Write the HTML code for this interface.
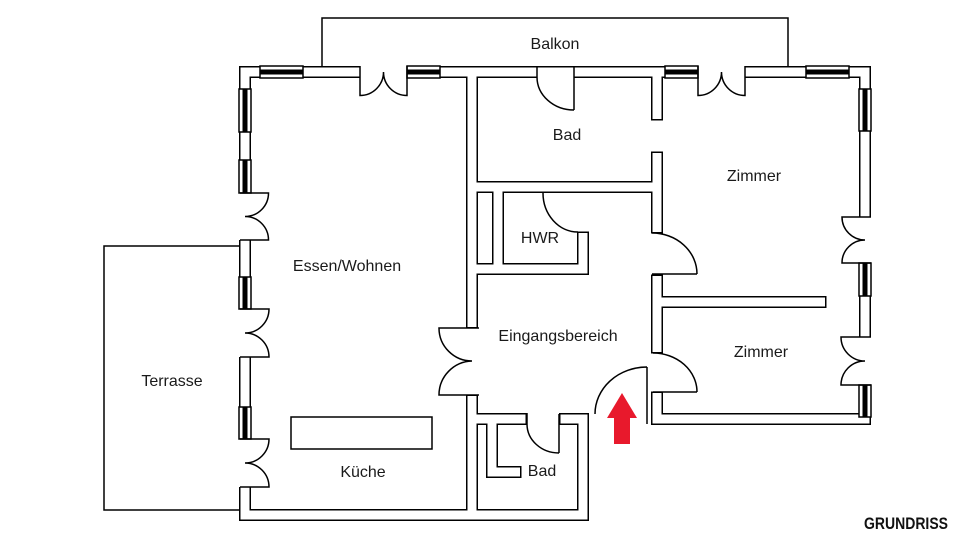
<!DOCTYPE html>
<html><head><meta charset="utf-8"><style>
html,body{margin:0;padding:0;background:#fff;}
svg{display:block;}
text{font-family:"Liberation Sans",sans-serif;font-size:16px;fill:#1a1a1a;}
</style></head><body>
<svg width="960" height="540" viewBox="0 0 960 540" xmlns="http://www.w3.org/2000/svg">
<rect width="960" height="540" fill="#fff"/>
<path d="M322,66 V18 H788 V66" fill="none" stroke="#000" stroke-width="1.5"/>
<path d="M240,246 H104 V510 H240" fill="none" stroke="#000" stroke-width="1.5"/>

<g fill="none" stroke-linecap="square" stroke-linejoin="miter">
<g id="walls">
<path d="M657,397.5 V419 H865 V72 H245 V515 H583 V419 H565"/>
<path d="M521,419 H472 V400.5"/>
<path d="M472,400.5 V515"/>
<path d="M472,72 V322.5"/>
<path d="M472,187 H657"/>
<path d="M498,187 V269"/>
<path d="M472,269 H583 V237.5"/>
<path d="M492,419 V472 H515.5"/>
<path d="M657,72 V114.5"/>
<path d="M657,157.5 V227.5"/>
<path d="M657,280.5 V347.5"/>
<path d="M657,302 H820.5"/>
</g>
</g>
<use href="#walls" stroke="#000" stroke-width="12" fill="none" stroke-linecap="square"/>
<use href="#walls" stroke="#fff" stroke-width="9" fill="none" stroke-linecap="square"/>

<g fill="#fff">
<rect x="238" y="193" width="14" height="47"/>
<rect x="238" y="309" width="14" height="48"/>
<rect x="238" y="439" width="14" height="48"/>
<rect x="858" y="217" width="14" height="46"/>
<rect x="858" y="337" width="14" height="48"/>
<rect x="360" y="65" width="47" height="14"/>
<rect x="698" y="65" width="47" height="14"/>
<rect x="537" y="68" width="37" height="11"/>
<rect x="465" y="328" width="14" height="67"/>
</g>

<g stroke="#000" stroke-width="1.5" fill="#fff">
<rect x="260" y="66" width="43" height="12"/>
<rect x="407" y="66" width="33" height="12"/>
<rect x="665" y="66" width="33" height="12"/>
<rect x="806" y="66" width="43" height="12"/>
<rect x="239" y="89" width="12" height="43"/>
<rect x="239" y="160" width="12" height="33"/>
<rect x="239" y="277" width="12" height="32"/>
<rect x="239" y="407" width="12" height="32"/>
<rect x="859" y="89" width="12" height="42"/>
<rect x="859" y="263" width="12" height="33"/>
<rect x="859" y="385" width="12" height="32"/>
</g>
<g fill="#000">
<rect x="260" y="69.5" width="43" height="5"/>
<rect x="407" y="69.5" width="33" height="5"/>
<rect x="665" y="69.5" width="33" height="5"/>
<rect x="806" y="69.5" width="43" height="5"/>
<rect x="242.5" y="89" width="5" height="43"/>
<rect x="242.5" y="160" width="5" height="33"/>
<rect x="242.5" y="277" width="5" height="32"/>
<rect x="242.5" y="407" width="5" height="32"/>
<rect x="862.5" y="89" width="5" height="42"/>
<rect x="862.5" y="263" width="5" height="33"/>
<rect x="862.5" y="385" width="5" height="32"/>
</g>

<g fill="none" stroke="#000" stroke-width="1.5">
<path d="M240,193H268.5A23.5,23.5 0 0 1 245,216.5 M240,240H268.5A23.5,23.5 0 0 0 245,216.5"/>
<path d="M240,309H269A24,24 0 0 1 245,333 M240,357H269A24,24 0 0 0 245,333"/>
<path d="M240,439H269A24,24 0 0 1 245,463 M240,487H269A24,24 0 0 0 245,463"/>
<path d="M871,217H842A23,23 0 0 0 865,240 M871,263H842A23,23 0 0 1 865,240"/>
<path d="M871,337H841A24,24 0 0 0 865,361 M871,385H841A24,24 0 0 1 865,361"/>
<path d="M360,66V95.5A23.5,23.5 0 0 0 383.5,72 M407,66V95.5A23.5,23.5 0 0 1 383.5,72"/>
<path d="M698,66V95.5A23.5,23.5 0 0 0 721.5,72 M745,66V95.5A23.5,23.5 0 0 1 721.5,72"/>
<path d="M537,67V77 M574,67V110 M537,77A37,33 0 0 0 574,110"/>
<path d="M479,328H439A33,33 0 0 0 472,361 M479,395H439A34,34 0 0 1 472,361"/>
<path d="M527,413V424 M559,414V453 M527,424A32,29 0 0 0 559,453"/>
<path d="M543,193A35,39 0 0 0 578,232"/>
<path d="M652,274H697 M652,233A45,41 0 0 1 697,274"/>
<path d="M653,392H697 M653,353A44,39 0 0 1 697,392"/>
<path d="M647,367V424 M595,414A52,47 0 0 1 647,367"/>
</g>

<rect x="291" y="417" width="141" height="32" fill="#fff" stroke="#000" stroke-width="1.5"/>

<path d="M622,393 L637,418 L630,418 L630,444 L614,444 L614,418 L607,418 Z" fill="#e8192c"/>

<text x="555" y="49" text-anchor="middle">Balkon</text>
<text x="567" y="140" text-anchor="middle">Bad</text>
<text x="754" y="181" text-anchor="middle">Zimmer</text>
<text x="540" y="243" text-anchor="middle">HWR</text>
<text x="347" y="271" text-anchor="middle">Essen/Wohnen</text>
<text x="558" y="341" text-anchor="middle">Eingangsbereich</text>
<text x="761" y="357" text-anchor="middle">Zimmer</text>
<text x="172" y="386" text-anchor="middle">Terrasse</text>
<text x="363" y="477" text-anchor="middle">Küche</text>
<text x="542" y="476" text-anchor="middle">Bad</text>
<text x="864" y="529" textLength="84" lengthAdjust="spacingAndGlyphs" style="font-family:'Liberation Sans Narrow','Liberation Sans',sans-serif;font-weight:bold;font-size:17px;fill:#111;">GRUNDRISS</text>
</svg>
</body></html>
